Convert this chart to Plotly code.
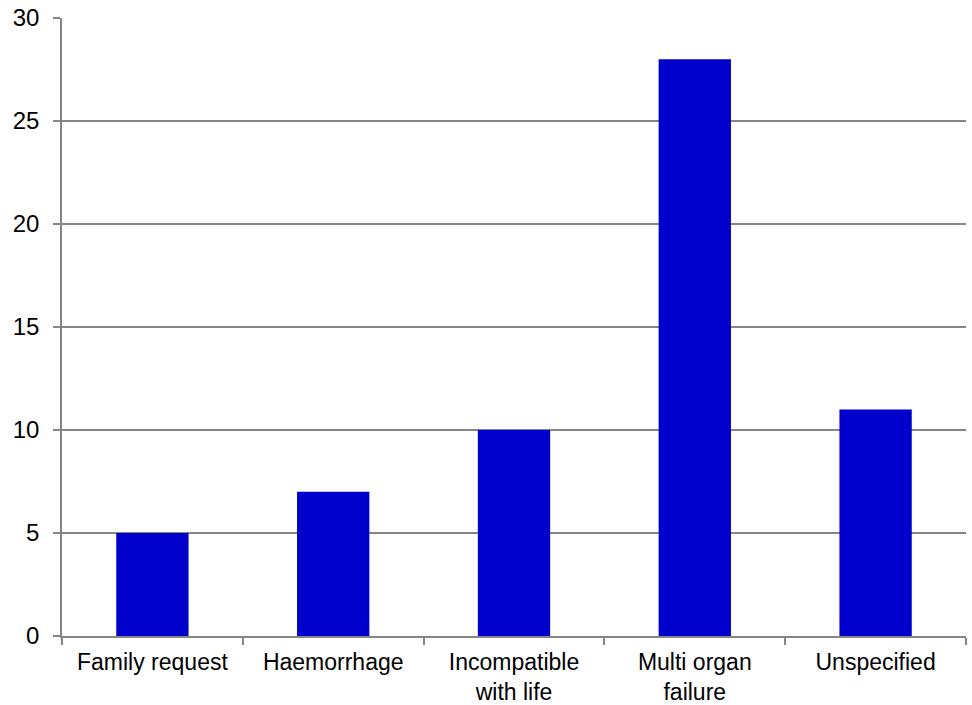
import plotly.graph_objects as go

# Causes and counts
categories = ["Family request", "Haemorrhage", "Incompatible<br>with life",
              "Multi organ<br>failure", "Unspecified"]
counts = [5, 7, 10, 28, 11]

y_ticks = [0, 5, 10, 15, 20, 25, 30]

AXIS_GREY = "#868686"
FONT = "Liberation Sans, Arial, sans-serif"

fig = go.Figure(
    go.Bar(
        x=categories,
        y=counts,
        marker=dict(color="#0000CC", line=dict(width=0)),
        hoverinfo="x+y",
    )
)

fig.update_layout(
    width=972,
    height=705,
    margin=dict(l=62, r=6, t=18, b=69),
    paper_bgcolor="white",
    plot_bgcolor="white",
    bargap=0.6,
    showlegend=False,
    font=dict(family=FONT, size=22, color="#000000"),
    xaxis=dict(
        type="category",
        automargin=False,
        showgrid=False,
        showline=True,
        linecolor=AXIS_GREY,
        linewidth=1.5,
        ticks="outside",
        tickson="boundaries",
        ticklen=7,
        tickcolor=AXIS_GREY,
        tickwidth=1.5,
        ticklabelstandoff=5,
        tickfont=dict(family=FONT, size=23, color="#000000"),
    ),
    yaxis=dict(
        range=[0, 30],
        automargin=False,
        tickvals=y_ticks,
        showgrid=True,
        gridcolor=AXIS_GREY,
        gridwidth=1.5,
        showline=True,
        linecolor=AXIS_GREY,
        linewidth=1.5,
        ticks="outside",
        ticklen=7,
        tickcolor=AXIS_GREY,
        tickwidth=1.5,
        ticklabelstandoff=9,
        zeroline=False,
        tickfont=dict(family=FONT, size=24, color="#000000"),
    ),
)

fig.write_html("out.html")
